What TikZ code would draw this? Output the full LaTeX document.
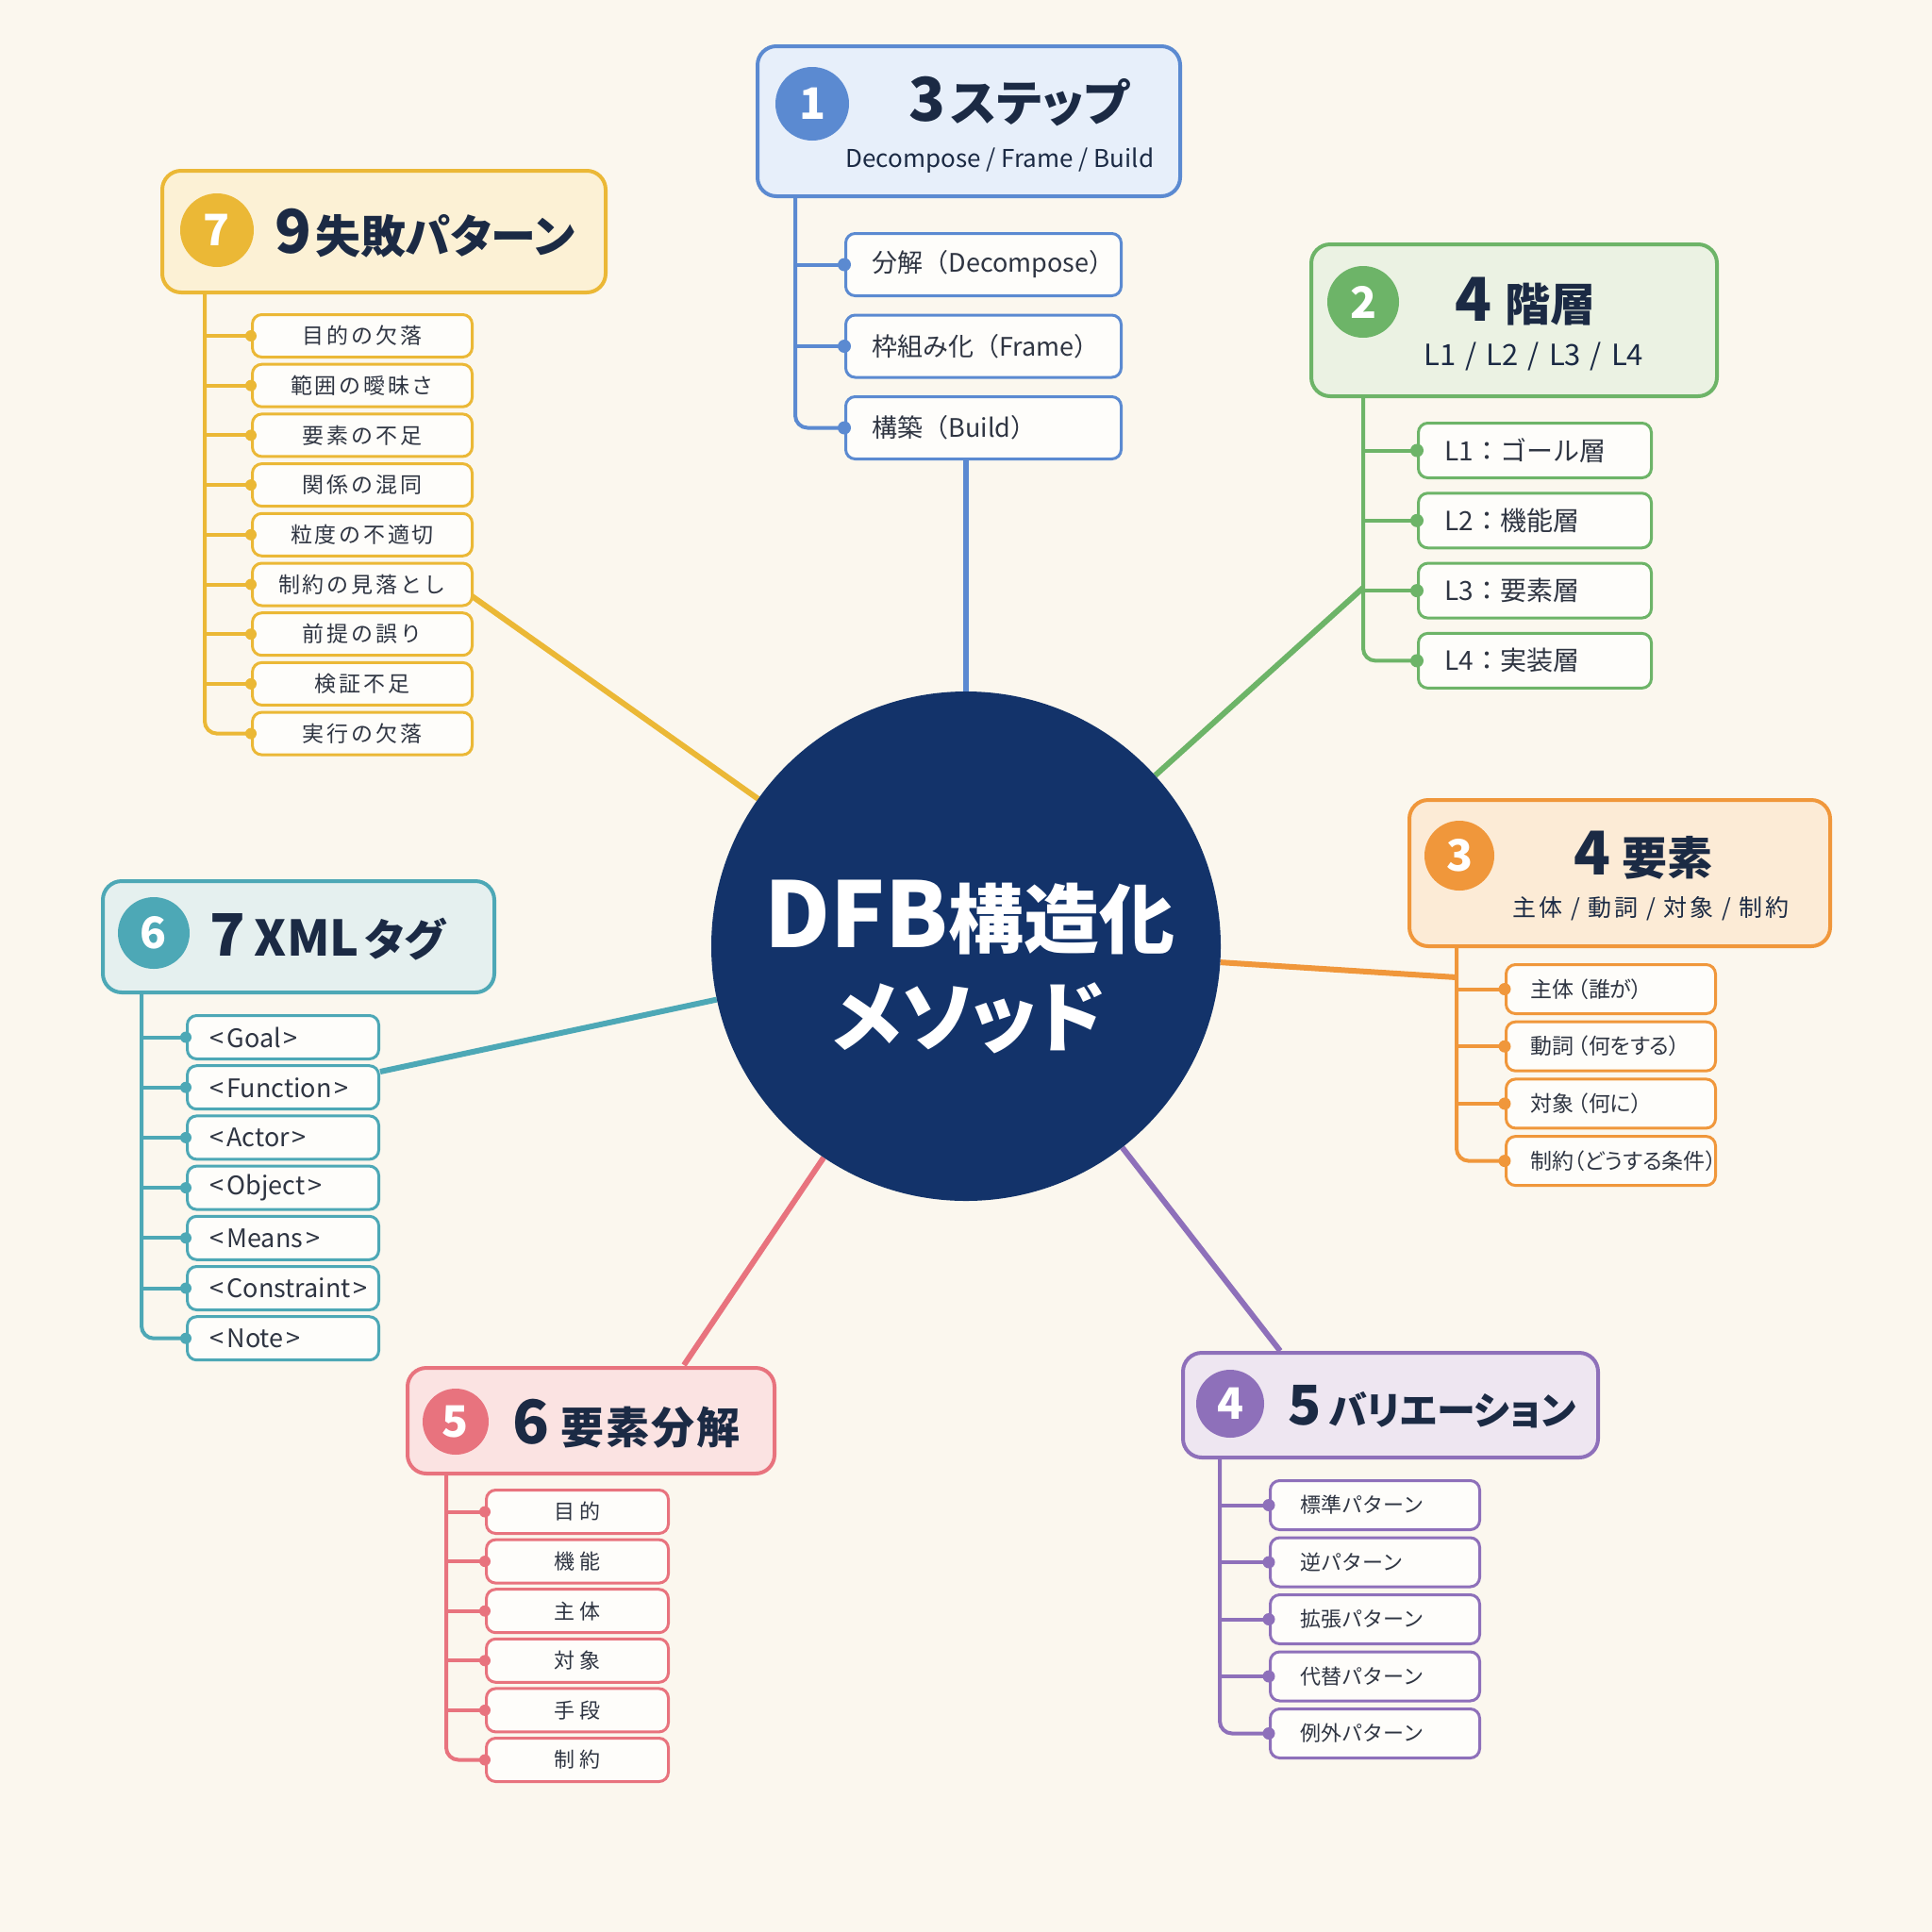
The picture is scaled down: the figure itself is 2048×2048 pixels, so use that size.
\documentclass[tikz,border=0pt]{standalone}
\usepackage{fontspec}
\usetikzlibrary{calc}
\newfontfamily\jp{Noto Sans CJK JP}
\newfontfamily\jpp{Noto Sans CJK JP}[RawFeature=+palt]
\newfontfamily\jpls{Noto Sans CJK JP}[LetterSpace=12]
\newcommand\fs[1]{\fontsize{#1bp}{#1bp}\selectfont}
\definecolor{bg}{HTML}{FBF7EE}
\definecolor{navy}{HTML}{13336A}
\definecolor{ink}{HTML}{1B2A44}
\definecolor{ctext}{HTML}{2F3542}
\definecolor{cfill}{HTML}{FEFDFA}
\definecolor{cb}{HTML}{5B8AD1}\definecolor{fb}{HTML}{E7EFFA}
\definecolor{cg}{HTML}{6DB468}\definecolor{fg}{HTML}{EBF2E3}
\definecolor{co}{HTML}{F0973B}\definecolor{fo}{HTML}{FCEBD6}
\definecolor{cp}{HTML}{8E70BA}\definecolor{fp}{HTML}{EEE6F1}
\definecolor{cr}{HTML}{E8737E}\definecolor{fr}{HTML}{FBE3E2}
\definecolor{ct}{HTML}{4DA8B6}\definecolor{ft}{HTML}{E5F0EF}
\definecolor{cy}{HTML}{EBB836}\definecolor{fy}{HTML}{FCF1D5}
\pgfdeclarelayer{bgl}
\pgfdeclarelayer{back}
\pgfsetlayers{bgl,back,main}
\tikzset{
  mainline/.style={line width=6bp, draw=#1},
  trunkline/.style={line width=4bp, draw=#1, rounded corners=13bp},
  hbox/.style 2 args={draw=#1, fill=#2, line width=4bp, rounded corners=20bp, anchor=north west, inner sep=0pt},
  cbox/.style={draw=#1, fill=cfill, line width=3bp, rounded corners=10bp, anchor=north west, text=ctext, inner ysep=0pt},
  badge/.style={circle, fill=#1, inner sep=0pt, text=white, font=\jp\bfseries\fs{46}},
  dotm/.style={circle, fill=#1, inner sep=0pt, minimum size=13bp},
  ttl/.style={inner sep=0pt, text=ink, font=\jpp\bfseries},
  sub/.style={inner sep=0pt, text=ink},
}
\begin{document}
\begin{tikzpicture}[x=1bp,y=-1bp]
\useasboundingbox (0,0) rectangle (2048,2048);
\begin{pgfonlayer}{bgl}
\fill[bg] (0,0) rectangle (2048,2048);
\end{pgfonlayer}

% centre
\node[circle, fill=navy, minimum size=540bp, inner sep=0pt] (c) at (1024,1003) {};
\node[inner sep=0pt, text=white, font=\jp\bfseries, anchor=base] (ct1) at (1028,1004) {{\fs{96}DFB}{\fs{80}構造化}};
\node[inner sep=0pt, text=white, font=\jpp\bfseries\fs{82}, anchor=base] (ct2) at (1027,1108) {メソッド};

% branch 1
\node[hbox={cb}{fb}, minimum width=448bp, minimum height=159bp] (h1) at (801,47) {};
\node[badge=cb, minimum size=78bp] (n1) at (861,110) {1};
\node[ttl, anchor=base] (h1t) at (1080,128) {{\fs{64}3}\hspace{6bp}{\fs{52}ステップ}};
\node[sub, anchor=base, font=\jp\fs{26}] (h1s) at (1060,177) {Decompose / Frame / Build};
\foreach \t [count=\i] in {分解（Decompose）,枠組み化（Frame）,構築（Build）}
  \node[cbox=cb, minimum height=66bp, text width=236bp, inner xsep=28bp, align=left, font=\jp\fs{27}] (b1\i) at (895,{246+86.5*(\i-1)}) {\t};
\foreach \i in {1,2,3} \node[dotm=cb, minimum size=14bp] (d1\i) at (b1\i.west) {};

% branch 2
\node[hbox={cg}{fg}, minimum width=430bp, minimum height=161bp] (h2) at (1388,257) {};
\node[badge=cg, minimum size=76bp] (n2) at (1445,320) {2};
\node[ttl, anchor=base] (h2t) at (1617,340) {{\fs{64}4}\hspace{14bp}{\fs{48}階層}};
\node[sub, anchor=base, font=\jp\fs{31}] (h2s) at (1626,387) {L1 \hspace{3bp}/\hspace{3bp} L2 \hspace{3bp}/\hspace{3bp} L3 \hspace{3bp}/\hspace{3bp} L4};
\foreach \t [count=\i] in {L1：ゴール層,L2：機能層,L3：要素層,L4：実装層}
  \node[cbox=cg, minimum height=58bp, text width=191bp, inner xsep=28bp, align=left, font=\jp\fs{28}] (b2\i) at (1502,{447+74.3*(\i-1)}) {\t};
\foreach \i in {1,...,4} \node[dotm=cg, minimum size=14bp] (d2\i) at (b2\i.west) {};

% branch 3
\node[hbox={co}{fo}, minimum width=446bp, minimum height=155bp] (h3) at (1492,846) {};
\node[badge=co, minimum size=74bp] (n3) at (1547,907) {3};
\node[ttl, anchor=base] (h3t) at (1742,927) {{\fs{64}4}\hspace{12bp}{\fs{48}要素}};
\node[sub, anchor=base, font=\jpls\fs{25}] (h3s) at (1750,971) {主体 / 動詞 / 対象 / 制約};
\foreach \t [count=\i] in {主体\hspace{4bp}（誰が）,動詞\hspace{4bp}（何をする）,対象\hspace{4bp}（何に）,制約（どうする条件）}
  \node[cbox=co, minimum height=52bp, text width=170bp, inner xsep=26bp, align=left, font=\jpp\fs{23}] (b3\i) at (1595,{1021+60.7*(\i-1)}) {\t};
\foreach \i in {1,...,4} \node[dotm=co] (d3\i) at (b3\i.west) {};

% branch 4
\node[hbox={cp}{fp}, minimum width=440bp, minimum height=111bp] (h4) at (1252,1432) {};
\node[badge=cp, minimum size=72bp] (n4) at (1304,1488) {4};
\node[ttl, anchor=base west] (h4t) at (1365,1510) {{\fs{58}5}\hspace{8bp}{\fs{41}バリエーション}};
\foreach \t [count=\i] in {標準パターン,逆パターン,拡張パターン,代替パターン,例外パターン}
  \node[cbox=cp, minimum height=52bp, text width=158bp, inner xsep=32bp, align=left, font=\jp\fs{22}] (b4\i) at (1345,{1568+60.5*(\i-1)}) {\t};
\foreach \i in {1,...,5} \node[dotm=cp] (d4\i) at (b4\i.west) {};

% branch 5
\node[hbox={cr}{fr}, minimum width=389bp, minimum height=112bp] (h5) at (430,1448) {};
\node[badge=cr, minimum size=70bp] (n5) at (483,1507) {5};
\node[ttl, anchor=base west] (h5t) at (543,1530) {{\fs{64}6}\hspace{12bp}{\fs{46}要\hspace{2bp}素\hspace{2bp}分\hspace{2bp}解}};
\foreach \t [count=\i] in {目\hspace{5bp}的,機\hspace{5bp}能,主\hspace{5bp}体,対\hspace{5bp}象,手\hspace{5bp}段,制\hspace{5bp}約}
  \node[cbox=cr, minimum height=46bp, minimum width=193bp, inner xsep=0pt, font=\jp\fs{22}] (b5\i) at (514,{1578+52.6*(\i-1)}) {\t};
\foreach \i in {1,...,6} \node[dotm=cr, minimum size=12bp] (d5\i) at (b5\i.west) {};

% branch 6
\node[hbox={ct}{ft}, minimum width=415bp, minimum height=118bp] (h6) at (107,932) {};
\node[badge=ct, minimum size=76bp] (n6) at (163,989) {6};
\node[ttl, anchor=base west] (h6t) at (222,1013) {{\fs{62}7}\hspace{10bp}{\fs{52}XML}\hspace{6bp}{\fs{46}タグ}};
\foreach \t [count=\i] in {Goal,Function,Actor,Object,Means,Constraint,Note}
  \node[cbox=ct, minimum height=46bp, text width=155bp, inner xsep=24bp, align=left, font=\jp\fs{27}] (b6\i) at (197,{1075+53.2*(\i-1)}) {<\kern3bp\t\kern3bp>};
\foreach \i in {1,...,7} \node[dotm=ct, minimum size=12bp] (d6\i) at (b6\i.west) {};

% branch 7
\node[hbox={cy}{fy}, minimum width=470bp, minimum height=129bp] (h7) at (170,179) {};
\node[badge=cy, minimum size=78bp] (n7) at (230,244) {7};
\node[ttl, anchor=base west] (h7t) at (291,268) {{\fs{64}9}\hspace{4bp}{\fs{48}失敗パターン}};
\foreach \t [count=\i] in {目的の欠落,範囲の曖昧さ,要素の不足,関係の混同,粒度の不適切,制約の見落とし,前提の誤り,検証不足,実行の欠落}
  \node[cbox=cy, minimum height=45bp, minimum width=233bp, inner xsep=0pt, font=\jpls\fs{23}] (b7\i) at (266,{332+52.7*(\i-1)}) {\t};
\foreach \i in {1,...,9} \node[dotm=cy, minimum size=12bp] (d7\i) at (b7\i.west) {};

% connectors
\begin{pgfonlayer}{back}
\coordinate (t1) at (843,206);
\coordinate (t2) at (1445,418);
\coordinate (t3) at (1544,1001);
\coordinate (t4) at (1293,1543);
\coordinate (t5) at (473,1560);
\coordinate (t6) at (150,1050);
\coordinate (t7) at (217,308);
\coordinate (g2) at (1445,623);
\coordinate (g3) at (1544,1036);
\coordinate (g4) at (1357,1432);
\coordinate (g5) at (725,1447);
\coordinate (g6) at (403,1136);
\coordinate (g7) at (499,631);
\draw[mainline=cb] (c) -- (c |- b13.south);
\draw[mainline=cg] (c) -- (g2);
\draw[mainline=co] (c) -- (g3);
\draw[mainline=cp] (c) -- (g4);
\draw[mainline=cr] (c) -- (g5);
\draw[mainline=ct] (c) -- (g6);
\draw[mainline=cy] (c) -- (g7);
\draw[trunkline=cb] (t1) |- (b13.west);
\foreach \i in {1,2} \draw[trunkline=cb] (t1 |- b1\i.west) -- (b1\i.west);
\draw[trunkline=cg] (t2) |- (b24.west);
\foreach \i in {1,2,3} \draw[trunkline=cg] (t2 |- b2\i.west) -- (b2\i.west);
\draw[trunkline=co] (t3) |- (b34.west);
\foreach \i in {1,2,3} \draw[trunkline=co] (t3 |- b3\i.west) -- (b3\i.west);
\draw[trunkline=cp] (t4) |- (b45.west);
\foreach \i in {1,...,4} \draw[trunkline=cp] (t4 |- b4\i.west) -- (b4\i.west);
\draw[trunkline=cr] (t5) |- (b56.west);
\foreach \i in {1,...,5} \draw[trunkline=cr] (t5 |- b5\i.west) -- (b5\i.west);
\draw[trunkline=ct] (t6) |- (b67.west);
\foreach \i in {1,...,6} \draw[trunkline=ct] (t6 |- b6\i.west) -- (b6\i.west);
\draw[trunkline=cy] (t7) |- (b79.west);
\foreach \i in {1,...,8} \draw[trunkline=cy] (t7 |- b7\i.west) -- (b7\i.west);
\end{pgfonlayer}
\end{tikzpicture}
\end{document}
